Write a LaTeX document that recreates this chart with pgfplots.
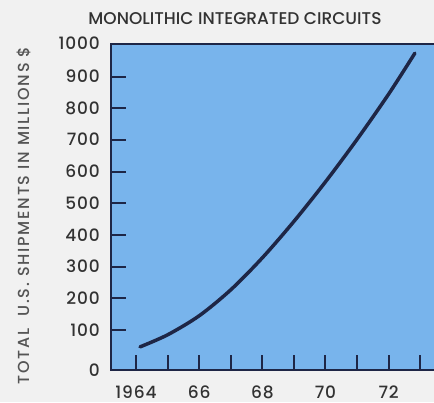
\documentclass[border=0pt]{standalone}
\usepackage{fontspec}
\setmainfont{Poppins Medium}
\usepackage{pgfplots}
\pgfplotsset{compat=1.18}
\definecolor{bgc}{RGB}{241,241,241}
\definecolor{plotblue}{RGB}{120,180,236}
\definecolor{navy}{RGB}{30,38,70}
\definecolor{txt}{RGB}{50,50,50}
\definecolor{lbl}{RGB}{85,85,85}
\begin{document}
\begin{tikzpicture}
\useasboundingbox[fill=bgc] (-111pt,-32pt) rectangle (323pt,370pt);
\begin{axis}[
  at={(0,0)}, anchor=south west,
  scale only axis, width=326pt, height=326pt,
  xmin=1963.21, xmax=1973.53, ymin=-26, ymax=1003,
  axis background/.style={fill=plotblue},
  axis line style={navy, line width=2pt},
  tick align=inside, xtick pos=bottom, ytick pos=left,
  major tick length=15pt,
  every tick/.style={navy, line width=2pt},
  xtick={1964,1965,1966,1967,1968,1969,1970,1971,1972,1973},
  xticklabels={1964,,66,,68,,70,,72,},
  ytick={-26,100,200,300,400,500,600,700,800,900,1003},
  yticklabels={0,100,200,300,400,500,600,700,800,900,1000},
  xticklabel style={font=\fontsize{17}{17}\selectfont\addfontfeature{LetterSpace=5}, color=txt, inner sep=0pt, text depth=0pt, anchor=base, yshift=-28pt},
  yticklabel style={font=\fontsize{17}{17}\selectfont\addfontfeature{LetterSpace=5}, color=txt, inner sep=0pt, anchor=base east, xshift=-11pt, yshift=-6pt},
  clip=true,
]
\addplot[navy, line width=3.5pt, smooth, line cap=round] coordinates {
  (1964.13,47) (1965.0,85) (1966.0,145) (1967.0,227) (1968.0,328)
  (1969.0,443) (1970.0,568) (1971.0,702) (1972.0,845) (1972.83,974)
};
\end{axis}
\node[rotate=90, color=lbl, font=\fontsize{16}{16}\selectfont\addfontfeature{LetterSpace=11}, inner sep=0pt] at (-87pt,154.5pt) {TOTAL\ \ U.S. SHIPMENTS IN MILLIONS \$};
\node[color=txt, font=\fontsize{17}{17}\selectfont, inner sep=0pt, anchor=base] at (124pt,345pt) {MONOLITHIC INTEGRATED CIRCUITS};
\end{tikzpicture}
\end{document}
